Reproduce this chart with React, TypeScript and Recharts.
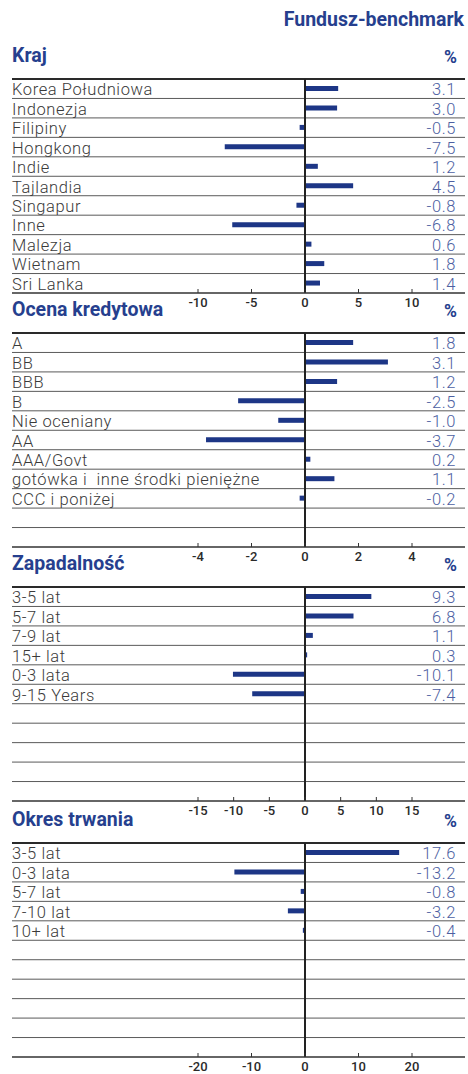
import React from "react";
import { Bar, BarChart, CartesianGrid, ReferenceLine, XAxis, YAxis } from "recharts";

// Kraj
const countryLabels = [
	"Korea Południowa", "Indonezja", "Filipiny", "Hongkong", "Indie", "Tajlandia",
	"Singapur", "Inne", "Malezja", "Wietnam", "Sri Lanka",
];
const countryValues = [3.1, 3.0, -0.5, -7.5, 1.2, 4.5, -0.8, -6.8, 0.6, 1.8, 1.4];
const countryTicks = [-10, -5, 0, 5, 10];

// Ocena kredytowa
const ratingLabels = [
	"A", "BB", "BBB", "B", "Nie oceniany", "AA", "AAA/Govt",
	"gotówka i  inne środki pieniężne", "CCC i poniżej",
];
const ratingValues = [1.8, 3.1, 1.2, -2.5, -1.0, -3.7, 0.2, 1.1, -0.2];
const ratingTicks = [-4, -2, 0, 2, 4];

// Zapadalność
const maturityLabels = ["3-5 lat", "5-7 lat", "7-9 lat", "15+ lat", "0-3 lata", "9-15 Years"];
const maturityValues = [9.3, 6.8, 1.1, 0.3, -10.1, -7.4];
const maturityTicks = [-15, -10, -5, 0, 5, 10, 15];

// Okres trwania
const durationLabels = ["3-5 lat", "0-3 lata", "5-7 lat", "7-10 lat", "10+ lat"];
const durationValues = [17.6, -13.2, -0.8, -3.2, -0.4];
const durationTicks = [-20, -10, 0, 10, 20];

const FONT = "Roboto, 'Noto Sans', sans-serif";
const BLUE = "#263f8e";
const BAR = "#1d3686";
const VALUE_BLUE = "#4d5fa2";

const ROWS = 11;
const PLOT_LEFT = 12;
const PLOT_RIGHT = 465;
const ZERO_X = 305;
const TICK_SPAN = 107; // px from 0 to the last tick
const PLOT_H = 214;
const AXIS_H = 24;

interface SectionProps {
	labels: string[];
	values: number[];
	ticks: number[];
}

function Section({ labels, values, ticks }: SectionProps) {
	const rows = Array.from({ length: ROWS }, (_, i) => ({
		name: labels[i] ?? "",
		value: i < values.length ? values[i] : null,
	}));
	const last = ticks[ticks.length - 1];
	const pxPerUnit = TICK_SPAN / last;
	const domain = [-(ZERO_X - PLOT_LEFT) / pxPerUnit, (PLOT_RIGHT - ZERO_X) / pxPerUnit];

	const LeftTick = (props: any) => (
		<text
			x={props.x}
			y={props.y + 6.5}
			textAnchor="start"
			fill="#3a3a3a"
			fontSize={16.5}
			fontWeight={300}
			fontFamily={FONT}
			letterSpacing={0.6}
			style={{ whiteSpace: "pre" }}
		>
			{rows[props.index]?.name}
		</text>
	);

	const RightTick = (props: any) => {
		const v = rows[props.index]?.value;
		return (
			<text
				x={props.x - 9}
				y={props.y + 6.5}
				textAnchor="end"
				fill={VALUE_BLUE}
				fontSize={16.5}
				fontWeight={300}
				fontFamily={FONT}
				letterSpacing={0.6}
			>
				{v == null ? "" : v.toFixed(1)}
			</text>
		);
	};

	return (
		<BarChart
			width={468}
			height={1 + PLOT_H + AXIS_H}
			data={rows}
			layout="vertical"
			margin={{ top: 1, right: 2, left: PLOT_LEFT - 1, bottom: 0 }}
		>
			<CartesianGrid
				vertical={false}
				horizontalCoordinatesGenerator={({ offset }: any) =>
					Array.from({ length: ROWS }, (_, i) => offset.top + (i * offset.height) / ROWS)
				}
				horizontal={(p: any) => (
					<line
						key={p.key}
						x1={p.x1}
						x2={p.x2}
						y1={p.y1}
						y2={p.y2}
						stroke={p.index === 0 ? "#2a2a2a" : "#5a5a5a"}
						strokeWidth={p.index === 0 ? 2 : 1}
					/>
				)}
			/>
			<XAxis
				type="number"
				domain={domain}
				ticks={ticks}
				allowDataOverflow
				height={AXIS_H}
				axisLine={{ stroke: "#333", strokeWidth: 1.5 }}
				tickLine={{ stroke: "#333" }}
				tickSize={-4}
				tickMargin={9}
				tick={{ fill: "#2a2a2a", fontSize: 13, fontWeight: 500, fontFamily: FONT }}
				interval={0}
			/>
			<YAxis
				type="category"
				dataKey="name"
				width={1}
				axisLine={false}
				tickLine={false}
				tickSize={0}
				tickMargin={0}
				interval={0}
				tick={<LeftTick />}
			/>
			<YAxis
				yAxisId="right"
				orientation="right"
				type="category"
				dataKey="name"
				width={1}
				axisLine={false}
				tickLine={false}
				tickSize={0}
				tickMargin={0}
				interval={0}
				tick={<RightTick />}
			/>
			<Bar dataKey="value" fill={BAR} barSize={5} isAnimationActive={false} />
			<ReferenceLine x={0} stroke="#222" strokeWidth={2} />
		</BarChart>
	);
}

const sections = [
	{ title: "Kraj", top: 79, labels: countryLabels, values: countryValues, ticks: countryTicks },
	{ title: "Ocena kredytowa", top: 333, labels: ratingLabels, values: ratingValues, ticks: ratingTicks },
	{ title: "Zapadalność", top: 587, labels: maturityLabels, values: maturityValues, ticks: maturityTicks },
	{ title: "Okres trwania", top: 843, labels: durationLabels, values: durationValues, ticks: durationTicks },
];

export default function App() {
	return (
		<div style={{ position: "absolute", left: 0, top: 0, width: 468, height: 1074, background: "#fff" }}>
			<svg width={468} height={1074} style={{ position: "absolute", left: 0, top: 0 }}>
				<text x={464} y={26} textAnchor="end" fill={BLUE} fontSize={19.5} fontWeight={700} fontFamily={FONT}>
					Fundusz-benchmark
				</text>
				{sections.map((s) => (
					<g key={s.title}>
						<text x={12} y={s.top - 17} fill={BLUE} fontSize={19.5} fontWeight={700} fontFamily={FONT}>
							{s.title}
						</text>
						<text x={457} y={s.top - 16} textAnchor="end" fill={BLUE} fontSize={17.5} fontWeight={700} fontFamily={FONT}>
							%
						</text>
					</g>
				))}
			</svg>
			{sections.map((s) => (
				<div key={s.title} style={{ position: "absolute", left: 0, top: s.top - 1 }}>
					<Section labels={s.labels} values={s.values} ticks={s.ticks} />
				</div>
			))}
		</div>
	);
}
